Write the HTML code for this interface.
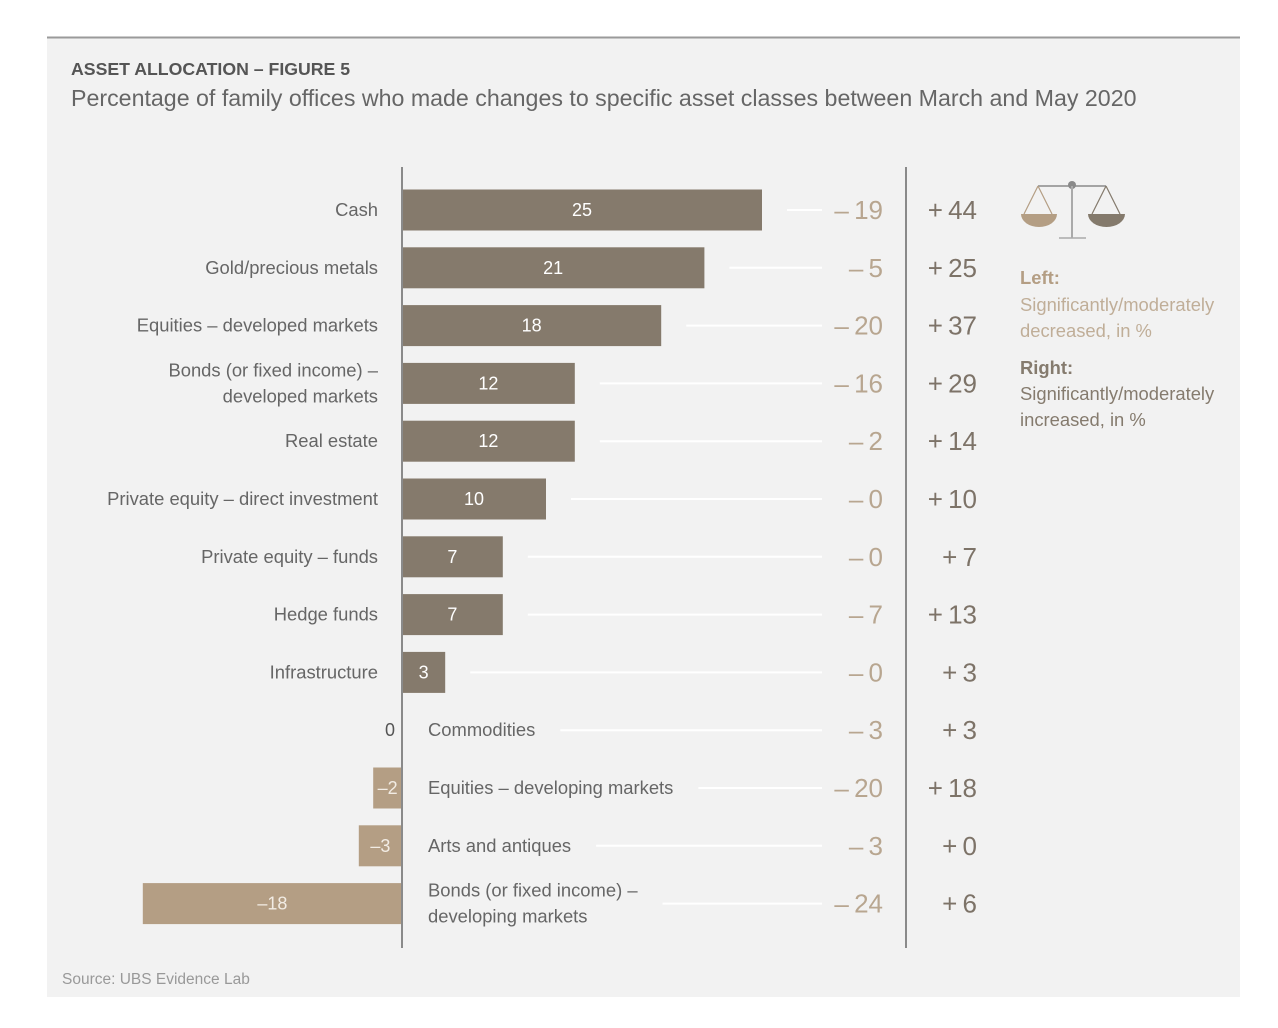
<!DOCTYPE html>
<html><head><meta charset="utf-8"><style>
body{margin:0;background:#fff;font-family:"Liberation Sans",sans-serif;}
svg{display:block}
</style></head><body>
<svg id="chart" width="1278" height="1028" xmlns="http://www.w3.org/2000/svg">
<rect x="47" y="37" width="1193" height="960" fill="#f2f2f2"/>
<line x1="47" y1="37.5" x2="1240" y2="37.5" stroke="#9a9a9a" stroke-width="2"/>
<text x="71" y="75" font-size="17.7" font-weight="bold" fill="#555">ASSET ALLOCATION – FIGURE 5</text>
<text x="71" y="106" font-size="23.2" fill="#666">Percentage of family offices who made changes to specific asset classes between March and May 2020</text>
<g id="rows"></g>
<line x1="402" y1="167" x2="402" y2="948" stroke="#8a8a8a" stroke-width="2"/>
<line x1="906" y1="167" x2="906" y2="948" stroke="#8a8a8a" stroke-width="2"/>
<g>
<line x1="1038" y1="186" x2="1106" y2="186" stroke="#8a8a8a" stroke-width="1.5"/>
<circle cx="1072" cy="185" r="4" fill="#8a8a8a"/>
<line x1="1072" y1="186" x2="1072" y2="238" stroke="#aaa" stroke-width="2"/>
<line x1="1059" y1="238" x2="1086" y2="238" stroke="#aaa" stroke-width="1.5"/>
<path d="M1038 186 L1024 214 M1038 186 L1052 214" stroke="#b49e84" stroke-width="1.2" fill="none"/>
<path d="M1021 214 L1057 214 A18 13 0 0 1 1021 214 Z" fill="#b49e84"/>
<path d="M1106 186 L1092 214 M1106 186 L1120 214" stroke="#847a6c" stroke-width="1.2" fill="none"/>
<path d="M1088 214 L1125 214 A18.5 13 0 0 1 1088 214 Z" fill="#847a6c"/>
</g>
<g font-size="18.4">
<text x="1020" y="284" font-weight="bold" fill="#b49e84">Left:</text>
<text x="1020" y="311" fill="#c0ae98">Significantly/moderately</text>
<text x="1020" y="337" fill="#c0ae98">decreased, in %</text>
<text x="1020" y="374" font-weight="bold" fill="#857b6e">Right:</text>
<text x="1020" y="400" fill="#857b6e">Significantly/moderately</text>
<text x="1020" y="426" fill="#857b6e">increased, in %</text>
</g>
<text x="62" y="984" font-size="15.5" fill="#999">Source: UBS Evidence Lab</text>
</svg>
<script>
const categories=[["Cash"],["Gold/precious metals"],["Equities – developed markets"],["Bonds (or fixed income) –","developed markets"],["Real estate"],["Private equity – direct investment"],["Private equity – funds"],["Hedge funds"],["Infrastructure"],["Commodities"],["Equities – developing markets"],["Arts and antiques"],["Bonds (or fixed income) –","developing markets"]];
const netValues=[25,21,18,12,12,10,7,7,3,0,-2,-3,-18];
const decreased=[19,5,20,16,2,0,0,7,0,3,20,3,24];
const increased=[44,25,37,29,14,10,7,13,3,3,18,0,6];
const NS="http://www.w3.org/2000/svg";
const x0=402,unit=14.4,y0=210,step=57.8,bh=41;
const xs=v=>x0+v*unit, ys=i=>y0+i*step;
const g=document.getElementById('rows');
function mk(t,a,p){const e=document.createElementNS(NS,t);for(const k in a)e.setAttribute(k,a[k]);(p||g).appendChild(e);return e;}
categories.forEach((lab,i)=>{
 const v=netValues[i],cy=ys(i);
 let lineStart;
 if(v>0){
  const r=mk('rect',{x:x0,y:cy-bh/2,width:xs(v)-x0,height:bh,fill:'#857a6c'});
  
  
  const t=mk('text',{x:(x0+xs(v))/2,y:cy+6,'text-anchor':'middle','font-size':18,fill:'#fff'});
  t.textContent=v;
  
  
  lineStart=xs(v)+25;
 }else if(v<0){
  const r=mk('rect',{x:xs(v),y:cy-bh/2,width:x0-xs(v),height:bh,fill:'#b49e84'});
  
  
  const t=mk('text',{x:(x0+xs(v))/2,y:cy+6,'text-anchor':'middle','font-size':18,fill:'#f2ece4'});
  t.textContent='–'+(-v);
  
  
 }else{
  const t=mk('text',{x:x0-7,y:cy+6,'text-anchor':'end','font-size':18,fill:'#555'});
  t.textContent='0';
  
  
 }
 const pos=v>0;
 const lx=pos?378:428;
 const anchor=pos?'end':'start';
 const lt=mk('text',{x:lx,y:0,'text-anchor':anchor,'font-size':18.4,fill:'#666'});
 
 
 const off=lab.length>1?-13:0;
 lab.forEach((s,k)=>{const ts=mk('tspan',{x:lx,y:cy+6+off+k*26},lt);ts.textContent=s;});
 if(!pos){let w=0;lab.forEach((s,k)=>{w=Math.max(w,lt.childNodes[k].getComputedTextLength());});lineStart=lx+w+25;}
 const ln=mk('line',{x1:lineStart,y1:cy,x2:822,y2:cy,stroke:'#fff','stroke-width':2});
 
 
 const d=mk('text',{x:883,y:cy+9,'text-anchor':'end','font-size':26,fill:'#b8a690'});
 d.textContent='–\u2009'+decreased[i];
 
 
 const p=mk('text',{x:977,y:cy+9,'text-anchor':'end','font-size':26,fill:'#7d7368'});
 p.textContent='+\u2009'+increased[i];
 
 
});
</script>
</body></html>
